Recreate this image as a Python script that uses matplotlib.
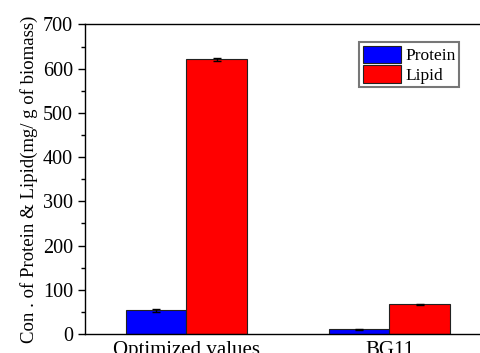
"""Protein and lipid content bar chart: optimized conditions vs BG11."""

import matplotlib
matplotlib.use("Agg")
import matplotlib.pyplot as plt
import numpy as np
from matplotlib.ticker import MultipleLocator

categories = ["Optimized values", "BG11"]
protein = [53.5, 10.5]
protein_err = [4.0, 1.0]
lipid = [621.0, 67.0]
lipid_err = [4.0, 1.0]

plt.rcParams["font.family"] = ["Liberation Serif", "DejaVu Serif"]

fig = plt.figure(figsize=(4.81, 3.53), dpi=100)
ax = fig.add_axes([0.1767, 0.0538, 0.844, 0.877])

x = np.arange(1, len(categories) + 1)
width = 0.3
err_kw = {"ecolor": "black", "elinewidth": 1.0, "capsize": 3, "capthick": 1.0}
ax.bar(x - width / 2, protein, width, yerr=protein_err, color="#0000ff",
       edgecolor="#222222", linewidth=0.8, label="Protein", error_kw=err_kw)
ax.bar(x + width / 2, lipid, width, yerr=lipid_err, color="#ff0000",
       edgecolor="#222222", linewidth=0.8, label="Lipid", error_kw=err_kw)

ax.set_xlim(0.5, 2.5)
ax.set_ylim(0, 700)
ax.set_xticks(x)
ax.set_xticklabels(categories, fontsize=15)
ax.tick_params(axis="x", length=0, pad=5)
ax.yaxis.set_major_locator(MultipleLocator(100))
ax.yaxis.set_minor_locator(MultipleLocator(50))
ax.tick_params(axis="y", which="major", direction="out", length=5, labelsize=14.5, width=1)
ax.tick_params(axis="y", which="minor", direction="out", length=3, width=1)
for spine in ax.spines.values():
    spine.set_linewidth(1.0)
ax.set_ylabel("Con . of Protein & Lipid(mg/ g of biomass)", fontsize=13.5, labelpad=4)

leg = ax.legend(loc="upper right", bbox_to_anchor=(0.921, 0.943), fontsize=12.5,
                fancybox=False, handlelength=2.2, handleheight=1.2,
                handletextpad=0.25, borderpad=0.2, labelspacing=0.05,
                borderaxespad=0)
leg.get_frame().set_edgecolor("#555555")
leg.get_frame().set_linewidth(1.5)

fig.savefig("out.png", dpi=100)
